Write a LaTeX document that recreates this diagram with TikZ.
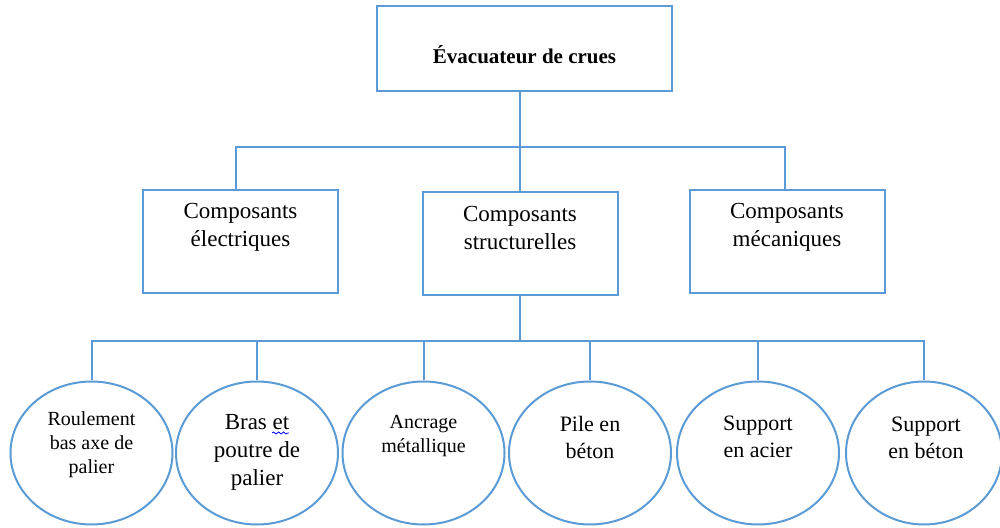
\documentclass[tikz,border=0pt]{standalone}
\usepackage{fontspec}
\setmainfont{Liberation Serif}
\usetikzlibrary{shapes.geometric,decorations.pathmorphing}
\definecolor{ln}{RGB}{91,155,213}
\begin{document}
\begin{tikzpicture}[x=0.5pt,y=-0.5pt,
  box/.style={draw=ln,line width=1pt,rectangle,inner sep=0pt,minimum width=97.5pt,minimum height=51.5pt},
  oval/.style={draw=ln,line width=1pt,ellipse,inner sep=0pt,minimum width=81pt,minimum height=71.5pt},
  conn/.style={draw=ln,line width=1pt},
  big/.style={align=center,inner sep=0pt,font=\fontsize{11.5}{14}\selectfont},
  mid/.style={align=center,inner sep=0pt,font=\fontsize{11}{13.5}\selectfont},
  small/.style={align=center,inner sep=0pt,font=\fontsize{10}{12}\selectfont}]
\useasboundingbox (0,0) rectangle (1000,528);
% top
\node[box,minimum width=147.5pt,minimum height=42.5pt] (top) at (524.5,48.5) {};
\node[inner sep=0pt,font=\bfseries\fontsize{10.5}{13}\selectfont] (toptxt) at (524.5,55) {Évacuateur de crues};
% middle
\node[box] (elec) at (240.5,241.5) {};
\node[box] (struct) at (520,244) {};
\node[box] (meca) at (787,241.5) {};
\node[big] (elect) at (240.5,227) {Composants\\électriques};
\node[big] (structt) at (520,228) {Composants\\structurelles};
\node[big] (mecat) at (787,227) {Composants\\mécaniques};
% circles
\node[oval] (c1) at (91.5,453) {};
\node[oval] (c2) at (257,453) {};
\node[oval] (c3) at (423.5,453) {};
\node[oval] (c4) at (590,453) {};
\node[oval] (c5) at (758,453) {};
\node[oval,minimum width=78pt] (c6) at (924,453) {};
\node[small] (c1t) at (91.5,445) {Roulement\\bas axe de\\palier};
\node[big] (c2t) at (257,452) {Bras et\\poutre de\\palier};
\node[small] (c3t) at (423.5,436) {Ancrage\\métallique};
\node[mid] (c4t) at (590,437) {Pile en\\béton};
\node[mid] (c5t) at (758,437) {Support\\en acier};
\node[mid] (c6t) at (926,438) {Support\\en béton};
\draw[blue,line width=0.4pt,decorate,decoration={snake,amplitude=0.5pt,segment length=2.5pt}] (272,433) -- (289,433);
% connectors
\coordinate (j1) at (520,147);
\coordinate (j2) at (520,341);
\coordinate (el) at (236,147);
\coordinate (mr) at (785,147);
\draw[conn] (top.south -| j1) -- (j1);
\draw[conn] (elec.north -| el) -- (el) -- (mr) -- (meca.north -| mr);
\draw[conn] (j1) -- (struct.north);
\draw[conn] (struct.south) -- (j2);
\draw[conn] (c1.north) -- (c1.north |- j2) -- (c6.north |- j2) -- (c6.north);
\foreach \c in {c2,c3,c4,c5} \draw[conn] (\c.north) -- (\c.north |- j2);
\end{tikzpicture}
\end{document}
